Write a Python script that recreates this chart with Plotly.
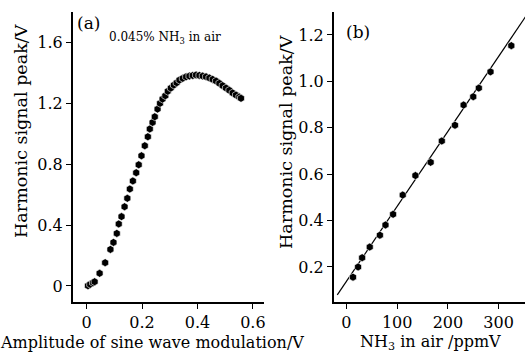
import plotly.graph_objects as go

# Panel (a): modulation amplitude scan
amp_v = [0.005, 0.013, 0.023, 0.029, 0.047, 0.067, 0.086, 0.097, 0.109, 0.116,
         0.126, 0.137, 0.147, 0.156, 0.167, 0.179, 0.188, 0.198, 0.210, 0.221,
         0.228, 0.238, 0.246, 0.256, 0.265, 0.274, 0.284, 0.293, 0.304, 0.315,
         0.325, 0.335, 0.347, 0.359, 0.371, 0.383, 0.395, 0.407, 0.419, 0.431,
         0.443, 0.455, 0.467, 0.479, 0.491, 0.503, 0.515, 0.527, 0.539, 0.551, 0.557]
peak_a = [0.002, 0.011, 0.022, 0.028, 0.083, 0.153, 0.240, 0.286, 0.345, 0.407,
          0.455, 0.520, 0.575, 0.636, 0.689, 0.743, 0.795, 0.854, 0.920, 0.979,
          1.030, 1.073, 1.110, 1.160, 1.198, 1.226, 1.248, 1.277, 1.298, 1.318,
          1.333, 1.351, 1.362, 1.372, 1.377, 1.381, 1.384, 1.381, 1.377, 1.372,
          1.364, 1.355, 1.344, 1.329, 1.314, 1.298, 1.283, 1.266, 1.252, 1.239, 1.231]

# Panel (b): calibration
conc_ppmv = [13, 23, 31, 46, 66, 77, 92, 111, 136, 166, 188, 214, 231, 250, 261, 284, 325]
peak_b = [0.156, 0.200, 0.240, 0.286, 0.337, 0.381, 0.427, 0.510, 0.594, 0.651,
          0.743, 0.811, 0.898, 0.934, 0.971, 1.041, 1.154]
fit_x = [-18, 355]
fit_y = [0.080, 1.285]

xticks_a = [0, 0.2, 0.4, 0.6]
yticks_a = [0, 0.4, 0.8, 1.2, 1.6]
xticks_b = [0, 100, 200, 300]
yticks_b = [0.2, 0.4, 0.6, 0.8, 1.0, 1.2]

FONT = "DejaVu Serif"
W, H = 529, 353

fig = go.Figure()
mk = dict(symbol="hexagon", size=8, color="black", line=dict(color="white", width=0.6))
fig.add_trace(go.Scatter(x=amp_v, y=peak_a, mode="markers", marker=mk, xaxis="x", yaxis="y"))
fig.add_trace(go.Scatter(x=fit_x, y=fit_y, mode="lines", line=dict(color="black", width=1.2),
                         xaxis="x2", yaxis="y2"))
fig.add_trace(go.Scatter(x=conc_ppmv, y=peak_b, mode="markers", marker=mk, xaxis="x2", yaxis="y2"))

ax = dict(showline=True, linecolor="black", linewidth=1.5, ticks="outside", ticklen=5,
          tickwidth=1.2, tickcolor="black", showgrid=False, zeroline=False, mirror=False,
          tickfont=dict(family=FONT, size=16, color="black"))

def px_x(p):
    return p / W

def px_y(p):
    return 1 - p / H

fig.update_layout(
    width=W, height=H, margin=dict(l=0, r=0, t=0, b=0),
    paper_bgcolor="white", plot_bgcolor="white", showlegend=False,
    xaxis=dict(ax, domain=[px_x(73), px_x(265)], range=[-0.05, 0.64], tickvals=xticks_a,
               ticktext=["0", "0.2", "0.4", "0.6"], anchor="y"),
    yaxis=dict(ax, domain=[px_y(302), px_y(12)], range=[-0.105, 1.797], tickvals=yticks_a,
               ticktext=["0", "0.4", "0.8", "1.2", "1.6"], anchor="x"),
    xaxis2=dict(ax, domain=[px_x(335), px_x(527)], range=[-25, 352], tickvals=xticks_b, anchor="y2"),
    yaxis2=dict(ax, domain=[px_y(302), px_y(12)], range=[0.049, 1.299], tickvals=yticks_b,
                ticktext=["0.2", "0.4", "0.6", "0.8", "1.0", "1.2"], anchor="x2"),
)

def ann(text, x, y, size, angle=0):
    fig.add_annotation(text=text, x=px_x(x), y=px_y(y), xref="paper", yref="paper",
                       showarrow=False, textangle=angle, xanchor="center", yanchor="middle",
                       font=dict(family=FONT, size=size, color="black"))

ann("(a)", 89, 23, 17)
ann("0.045% NH<sub>3</sub> in air", 166, 38, 12)
ann("(b)", 359, 32, 17)
ann("Amplitude of sine wave modulation/V", 153, 342, 16)
ann("NH<sub>3</sub> in air /ppmV", 432, 342, 16)
ann("Harmonic signal peak/V", 21, 131, 17.5, -90)
ann("Harmonic signal peak/V", 287, 142, 17.5, -90)

fig.write_html("out.html", config={"displayModeBar": False},
               post_script="document.body.style.margin='0';")
